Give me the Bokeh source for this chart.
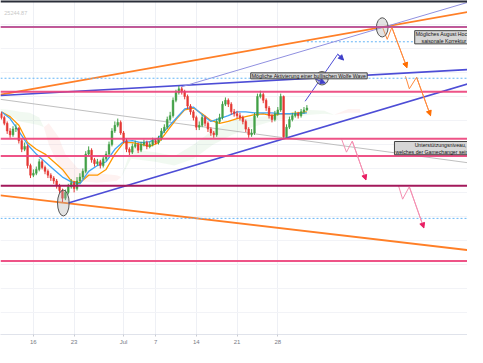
import numpy as np
from bokeh.plotting import figure
from bokeh.models import Range1d, FixedTicker, Span, Label, Arrow, NormalHead, ColumnDataSource
from bokeh.embed import file_html
from bokeh.resources import INLINE

# ---------------- data ----------------
tick_pos = [11, 25, 42, 53, 67, 81, 95]
tick_labels = ["16", "23", "Jul", "7", "14", "21", "28"]

bars = list(range(106))
opens = [24320,24280,24220,24140,24100,24160,24170,24040,23950,23980,
         23780,23680,23700,23740,23820,23760,23720,23680,23650,23620,
         23570,23520,23440,23500,23560,23600,23540,23620,23660,23720,
         23900,23940,23840,23800,23820,23780,23850,23900,24000,24140,
         24200,24230,24120,24040,23950,23920,23980,24000,23940,24000,
         24020,23980,24000,24040,24020,24060,24140,24180,24260,24300,
         24460,24540,24580,24550,24500,24400,24340,24280,24180,24200,
         24280,24220,24160,24120,24100,24240,24280,24420,24460,24420,
         24340,24320,24300,24280,24240,24160,24100,24120,24300,24500,
         24520,24460,24380,24300,24260,24320,24360,24500,24080,24180,
         24260,24300,24320,24300,24340,24360]
closes = [24280,24220,24140,24100,24160,24170,24040,23950,23980,23780,
          23680,23700,23740,23820,23760,23720,23680,23650,23620,23570,
          23520,23440,23500,23560,23600,23540,23620,23660,23720,23900,
          23940,23840,23800,23820,23780,23850,23900,24000,24140,24200,
          24230,24120,24040,23950,23920,23980,24000,23940,24000,24020,
          23980,24000,24040,24020,24060,24140,24180,24260,24300,24460,
          24540,24580,24550,24500,24400,24340,24280,24180,24200,24280,
          24220,24160,24120,24100,24240,24280,24420,24460,24420,24340,
          24320,24300,24280,24240,24160,24100,24120,24300,24500,24520,
          24460,24380,24300,24260,24320,24360,24500,24080,24180,24260,
          24300,24320,24300,24340,24360,24380]
highs = [24340,24300,24240,24170,24190,24210,24180,24060,24020,24000,
         23800,23740,23770,23850,23840,23780,23740,23700,23670,23640,
         23590,23540,23530,23590,23640,23620,23660,23700,23750,23930,
         23980,23960,23860,23850,23840,23880,23930,24030,24170,24240,
         24270,24250,24140,24060,23970,24010,24040,24020,24030,24050,
         24040,24030,24070,24060,24090,24170,24210,24290,24340,24490,
         24570,24610,24600,24570,24520,24420,24360,24300,24240,24310,
         24300,24240,24180,24140,24270,24320,24450,24490,24480,24440,
         24370,24350,24330,24300,24260,24180,24160,24330,24530,24560,
         24540,24480,24400,24320,24350,24390,24530,24510,24210,24290,
         24330,24350,24340,24370,24390,24410]
lows = [24260,24200,24110,24070,24080,24130,24010,23920,23930,23750,
        23650,23660,23680,23720,23740,23690,23650,23620,23590,23540,
        23490,23400,23420,23480,23540,23500,23520,23600,23640,23700,
        23880,23810,23770,23780,23750,23760,23830,23880,23980,24120,
        24180,24100,24010,23920,23890,23900,23960,23910,23920,23980,
        23950,23960,23980,24000,24000,24040,24120,24160,24240,24280,
        24440,24520,24520,24470,24370,24310,24250,24150,24150,24180,
        24190,24130,24090,24070,24080,24220,24260,24400,24390,24310,
        24290,24270,24250,24210,24130,24070,24080,24100,24280,24480,
        24430,24350,24270,24230,24240,24300,24340,24070,24070,24160,
        24240,24280,24270,24280,24320,24350]

ma_x = list(range(0, 106, 3))
ma_blue = [24340,24270,24140,24000,23900,23820,23740,23660,23610,23590,
           23720,23780,23820,23950,24030,24040,24020,24030,24070,24170,
           24270,24370,24390,24310,24240,24270,24300,24340,24340,24330,
           24330,24330,24320,24320,24320,24330]
ma_orange = [24340,24290,24200,24020,23950,23900,23820,23740,23620,23600,
             23680,23680,23740,23900,24020,24020,24000,23980,24020,24140,
             24260,24360,24380,24320,24250,24220,24240,24270,24290,24310,
             24320,24300,24320,24320,24330,24340]

cloud_x = [-0.3,3.0,6.3,9.7,13.0,14.6,16.3,19.6,22.0,26.3,32.9,39.6,41.2,44.6,
           52.9,59.5,66.1,72.8,79.4,86.1,92.7,99.4,106.0,111.0,114.3,119.3,123.3]
span_a = [24370,24360,24340,24330,24280,24180,24000,23780,23650,23620,23600,23620,
          23660,23950,23920,23880,24000,24150,24250,24280,24300,24320,24360,24350,
          24310,24330,24330]
span_b = [24360,24300,24240,24220,24200,24180,24220,24080,23900,23750,23700,23680,
          23660,23850,23820,23780,23850,24000,24100,24180,24240,24280,24310,24320,
          24310,24370,24370]

h_levels_pink = [25225, 24550, 24060, 23880, 22785]
h_level_maroon = 23570
h_levels_dotted = [24690, 23230]
dotted_partial = (105, 25070)

# trend lines: (x0, y0, x1, y1)
orange_upper = (-0.3, 24520, 160.2, 25380)
orange_lower = (-0.3, 23470, 160.2, 22900)
blue_upper = (-0.3, 24510, 160.2, 24780)
purple_thin = (61.8, 24600, 160.2, 25480)
blue_lower = (23.0, 23390, 160.2, 24630)
gray_line = (-0.3, 24470, 160.2, 23810)

blue_path_x = [104.4, 115.6, 117.6]
blue_path_y = [24450, 24940, 24880]
blue_short_x = [108.0, 111.3]
blue_short_y = [24680, 24640]
orange_path1_x = [130.9, 132.6, 134.2, 139.4]
orange_path1_y = [25230, 25095, 25220, 24800]
orange_path2_x = [138.9, 140.2, 142.7, 147.5]
orange_path2_y = [24710, 24580, 24700, 24300]
pink_path1_x = [117.0, 118.6, 120.6, 125.3]
pink_path1_y = [24050, 23920, 24035, 23630]
pink_path2_x = [136.5, 137.9, 140.2, 145.2]
pink_path2_y = [23570, 23430, 23560, 23130]

ell_x = [21.3, 130.9, 110.2]
ell_y = [23390, 25220, 24690]
ell_w = [4.0, 4.0, 4.3]
ell_h = [270, 200, 140]

note1 = "Mögliche Aktivierung einer bullischen Wolfe Wave"
note2 = "Mögliches August Hoch und\nsaisonale Korrektur bis"
note3 = "Unterstützungsniveau,\nwelches der Gamechanger sein könnte"
corner_text = "25244.87"

# ---------------- figure ----------------
p = figure(width=467, height=347, x_range=Range1d(-0.3, 160.2), y_range=Range1d(22020, 25500),
           output_backend="svg", toolbar_location=None,
           min_border_left=0, min_border_right=0, min_border_top=0, min_border_bottom=0)
p.outline_line_color = None
p.background_fill_color = "white"
p.yaxis.visible = False

p.xaxis.ticker = FixedTicker(ticks=tick_pos)
p.xaxis.major_label_overrides = {t: l for t, l in zip(tick_pos, tick_labels)}
p.xaxis.major_label_text_font = "Liberation Sans"
p.xaxis.major_label_text_font_size = "6px"
p.xaxis.major_label_text_color = "#787b86"
p.xaxis.axis_line_color = "#e0e3eb"
p.xaxis.major_tick_line_color = "#c8cbd3"
p.xaxis.major_tick_in = 0
p.xaxis.major_tick_out = 2
p.xaxis.minor_tick_line_color = None
p.xaxis.major_label_standoff = 2

p.xgrid.ticker = FixedTicker(ticks=tick_pos)
p.xgrid.grid_line_color = "#eef0f5"
p.ygrid.ticker = FixedTicker(ticks=list(range(22000, 25600, 250)))
p.ygrid.grid_line_color = "#f2f3f7"

# cloud
a = np.array(span_a); b = np.array(span_b)
top = np.maximum(a, b)
p.varea(x=cloud_x, y1=b, y2=top, fill_color="#4caf50", fill_alpha=0.08)
p.varea(x=cloud_x, y1=a, y2=top, fill_color="#ef5350", fill_alpha=0.08)

# horizontal levels
for lv in h_levels_pink:
    p.add_layout(Span(location=lv, dimension="width", line_color="#ec407a", line_width=2, line_alpha=0.9))
p.add_layout(Span(location=25225, dimension="width", line_color="#5c6bc0", line_width=0.8, line_alpha=0.8))
p.add_layout(Span(location=h_level_maroon, dimension="width", line_color="#a3195b", line_width=2))
for lv in h_levels_dotted:
    p.add_layout(Span(location=lv, dimension="width", line_color="#64b5f6", line_width=1, line_dash="2 2"))
p.line([dotted_partial[0], 160.2], [dotted_partial[1]] * 2, line_color="#64b5f6", line_width=1, line_dash="2 2")

# trend lines
def seg(t, **kw):
    p.line([t[0], t[2]], [t[1], t[3]], **kw)

seg(gray_line, line_color="#b8b8b8", line_width=0.9)
seg(orange_upper, line_color="#ff7f27", line_width=1.8)
seg(orange_lower, line_color="#ff7f27", line_width=1.8)
seg(blue_upper, line_color="#4d4dd6", line_width=1.6)
seg(purple_thin, line_color="#9090e0", line_width=1)
seg(blue_lower, line_color="#4d4dd6", line_width=1.6)

# moving averages
p.line(ma_x, ma_orange, line_color="#ff9800", line_width=1.3)
p.line(ma_x, ma_blue, line_color="#42a5f5", line_width=1.3)

# candles
colors = ["#43a047" if c >= o else "#e53935" for o, c in zip(opens, closes)]
src = ColumnDataSource(dict(x=bars, o=opens, c=closes, h=highs, l=lows, col=colors))
p.segment(x0="x", y0="h", x1="x", y1="l", source=src, line_color="col", line_width=1)
p.vbar(x="x", width=0.6, top="o", bottom="c", source=src, fill_color="col", line_color="col", line_width=0.5)

# projection paths with arrowheads
def path(xs, ys, col, head_col):
    p.line(xs, ys, line_color=col, line_width=1)
    p.add_layout(Arrow(end=NormalHead(size=5, fill_color=head_col, line_color=head_col),
                       x_start=xs[-2], y_start=ys[-2], x_end=xs[-1], y_end=ys[-1],
                       line_color=col, line_width=1))

path(blue_path_x, blue_path_y, "#4d4dd6", "#3f3fc8")
path(blue_short_x, blue_short_y, "#4d4dd6", "#3f3fc8")
path(orange_path1_x, orange_path1_y, "#ff8a3d", "#ff6d00")
path(orange_path2_x, orange_path2_y, "#ff8a3d", "#ff6d00")
path(pink_path1_x, pink_path1_y, "#f48fb1", "#e91e63")
path(pink_path2_x, pink_path2_y, "#f48fb1", "#e91e63")

# ellipses
p.ellipse(x=ell_x, y=ell_y, width=ell_w, height=ell_h, fill_color="#b0b0b0", fill_alpha=0.35,
          line_color="#555555", line_width=1)

# notes
common = dict(text_font="Liberation Sans", text_font_size="5.2px", text_color="#111111",
              background_fill_color="#d6d6d6", background_fill_alpha=1.0,
              border_line_color="#444444", border_line_width=1, padding=(1, 0),
              text_baseline="middle")
p.add_layout(Label(x=85.7, y=24715, text=note1, text_align="left", **common))
p.add_layout(Label(x=153.5, y=25117, text=note2, text_align="center", **common))
p.add_layout(Label(x=150.9, y=23962, text=note3, text_align="center", **common))

p.add_layout(Label(x=1.0, y=25370, text=corner_text, text_font="Liberation Sans", text_font_size="5.5px",
                   text_color="#c8c8c8", text_baseline="middle"))

# top dark bar
p.add_layout(Span(location=25500, dimension="width", line_color="#2a2e39", line_width=4))

open("out.html", "w").write(file_html(p, INLINE))
